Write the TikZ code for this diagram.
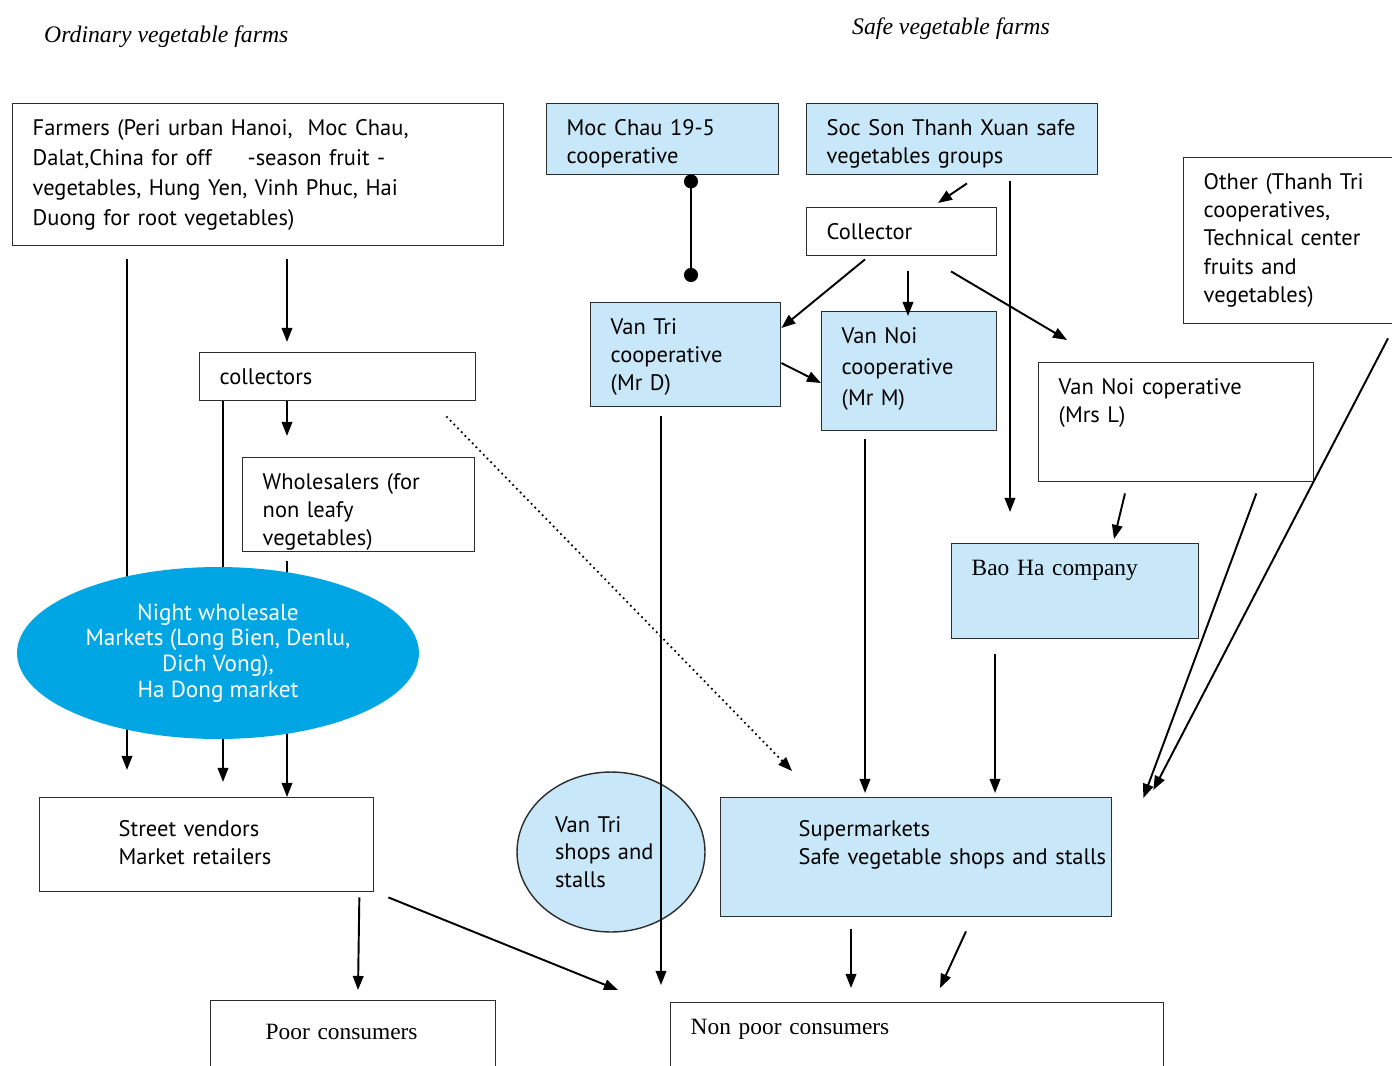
\documentclass[tikz,border=0pt]{standalone}
\usepackage{fontspec}
\setmainfont{PT Sans}
\newfontfamily\timesfont{Liberation Serif}
\usetikzlibrary{shapes.geometric,arrows.meta}

\definecolor{paleblue}{RGB}{200,232,249}
\definecolor{nightblue}{RGB}{0,166,228}
\definecolor{edge}{RGB}{45,45,45}

\tikzset{
  box/.style={draw=edge, line width=0.8pt, anchor=north west, align=left,
    inner xsep=0.4cm, inner ysep=0.2cm, text height=0.44cm,
    font=\fontsize{12.8}{16}\selectfont},
  safe/.style={box, fill=paleblue},
  serifbox/.style={box, font=\fontsize{13.3}{16}\selectfont\timesfont},
  arr/.style={line width=1.1pt, -{Triangle[length=8pt,width=6pt]}},
}

\begin{document}
\begin{tikzpicture}[x=0.02cm, y=-0.02cm]
\useasboundingbox (0,0) rectangle (1392,1065);
\clip (0,0) rectangle (1392,1065);
\fill[white] (0,0) rectangle (1392,1065);

% Headings
\node[anchor=west, font=\fontsize{13.5}{16}\selectfont\timesfont\itshape] (ordtitle) at (38,37) {Ordinary vegetable farms};
\node[anchor=west, font=\fontsize{13.5}{16}\selectfont\timesfont\itshape] (safetitle) at (846,29) {Safe vegetable farms};

% Ordinary chain
\node[box, text width=9.02cm, text depth=2.0cm, font=\fontsize{12.8}{17}\selectfont] (farmers) at (12,103)
  {Farmers (Peri urban Hanoi,\ \ Moc Chau,\\Dalat,China\ for off\hspace{1.6em}-season fruit -\\vegetables, Hung Yen, Vinh Phuc, Hai\\Duong for root vegetables)};
\node[box, text width=4.72cm, text depth=0.12cm] (collectors) at (199,352) {collectors};
\node[box, text width=3.84cm, text depth=1.04cm] (wholesalers) at (242,457) {Wholesalers (for\\non leafy\\vegetables)};
\node[box, text width=5.88cm, text height=0.58cm, text depth=0.9cm] (street) at (39,797)
  {\hspace*{1.18cm}Street vendors\\\hspace*{1.18cm}Market retailers};
\node[serifbox, text width=4.9cm, text height=0.58cm, text depth=0.62cm] (poor) at (210,1000)
  {\hspace*{0.7cm}Poor consumers};

% Safe chain
\node[safe, text width=3.84cm, text depth=0.58cm] (mocchau) at (546,103) {Moc Chau 19-5\\cooperative};
\node[safe, text width=5.02cm, text depth=0.58cm] (socson) at (806,103) {Soc Son Thanh Xuan safe\\vegetables groups};
\node[box, text width=3.0cm, text depth=0.12cm] (collector) at (806,207) {Collector};
\node[box, text width=3.5cm, text depth=2.48cm] (other) at (1183,157)
  {Other (Thanh Tri\\cooperatives,\\Technical center\\fruits and\\vegetables)};
\node[safe, text width=3.0cm, text depth=1.24cm] (vantri) at (590,302) {Van Tri\\cooperative\\(Mr D)};
\node[safe, text width=2.7cm, text depth=1.54cm, font=\fontsize{12.8}{17.5}\selectfont] (vannoi) at (821,311) {Van Noi\\cooperative\\(Mr M)};
\node[box, text width=4.7cm, text depth=1.54cm] (vannoil) at (1038,362) {Van Noi coperative\\(Mrs L)};
\node[serifbox, fill=paleblue, text width=4.14cm, text depth=1.06cm] (baoha) at (951,543) {Bao Ha company};
\node[ellipse, draw=edge, line width=0.8pt, fill=paleblue, minimum width=3.76cm, minimum height=3.2cm,
  inner sep=0pt, align=left, text width=2.24cm, font=\fontsize{12.8}{15.5}\selectfont] (vtshops) at (611,852) {Van Tri\\shops and\\stalls};
\node[safe, text width=7.02cm, text height=0.58cm, text depth=1.4cm] (super) at (720,797)
  {\hspace*{1.16cm}Supermarkets\\\hspace*{1.16cm}\mbox{Safe vegetable shops and stalls}};
\node[serifbox, text width=9.06cm, text depth=0.72cm] (nonpoor) at (670,1002) {Non poor consumers};

% Ordinary flows
\draw[arr] ([shift={(115,13)}]farmers.south west) -- ([shift={(88,-27)}]street.north west);
\draw[arr] ([shift={(275,13)}]farmers.south west) -- ([shift={(88,-10)}]collectors.north west);
\draw[arr] ([shift={(24,0)}]collectors.south west) -- ([shift={(184,-15)}]street.north west);
\draw[arr] ([shift={(88,0)}]collectors.south west) -- ([shift={(45,-21)}]wholesalers.north west);
\draw[arr] ([shift={(45,9)}]wholesalers.south west) -- ([shift={(248,0)}]street.north west);
\draw[line width=1pt, dotted, -{Triangle[length=8pt,width=6pt]}]
  ([shift={(-30,15)}]collectors.south east) -- ([shift={(72,-26)}]super.north west);
\draw[arr] ([shift={(-15,5)}]street.south east) -- ([shift={(148,-10)}]poor.north west);
\draw[arr] ([shift={(14,5)}]street.south east) -- ([shift={(-52,-12)}]nonpoor.north west);

% Safe flows
\draw[line width=1.1pt, {Circle[length=8pt]}-{Circle[length=8pt]}]
  ([shift={(145,-1)}]mocchau.south west) -- ([shift={(101,-20)}]vantri.north west);
\draw[arr] ([shift={(161,8)}]socson.south west) -- ([shift={(132,-4)}]collector.north west);
\draw[arr] ([shift={(204,6)}]socson.south west) -- ([shift={(59,-31)}]baoha.north west);
\draw[arr] ([shift={(59,3)}]collector.south west) -- ([shift={(0,26)}]vantri.north east);
\draw[arr] ([shift={(102,15)}]collector.south west) -- ([shift={(87,5)}]vannoi.north west);
\draw[arr] ([shift={(145,15)}]collector.south west) -- ([shift={(29,-22)}]vannoil.north west);
\draw[arr] ([shift={(0,61)}]vantri.north east) -- ([shift={(0,72)}]vannoi.north west);
\draw[arr] ([shift={(71,9)}]vantri.south west) -- ([shift={(-9,-17)}]nonpoor.north west);
\draw[arr] ([shift={(44,8)}]vannoi.south west) -- ([shift={(145,-4)}]super.north west);
\draw[arr] ([shift={(87,11)}]vannoil.south west) -- ([shift={(163,-4)}]baoha.north west);
\draw[arr] ([shift={(44,15)}]baoha.south west) -- ([shift={(275,-4)}]super.north west);
\draw[arr] ([shift={(-58,11)}]vannoil.south east) -- ([shift={(31,1)}]super.north east);
\draw[arr] ([shift={(205,14)}]other.south west) -- ([shift={(41,-7)}]super.north east);
\draw[arr] ([shift={(131,12)}]super.south west) -- ([shift={(181,-14)}]nonpoor.north west);
\draw[arr] ([shift={(246,14)}]super.south west) -- ([shift={(270,-14)}]nonpoor.north west);

% Night markets, over the flows
\node[ellipse, fill=nightblue, minimum width=8.04cm, minimum height=3.44cm, inner sep=0pt,
  text=white, align=center, font=\fontsize{13.2}{14.7}\selectfont] (night) at (218,653)
  {Night wholesale\\Markets (Long Bien, Denlu,\\Dich Vong),\\Ha Dong market};
\end{tikzpicture}
\end{document}
